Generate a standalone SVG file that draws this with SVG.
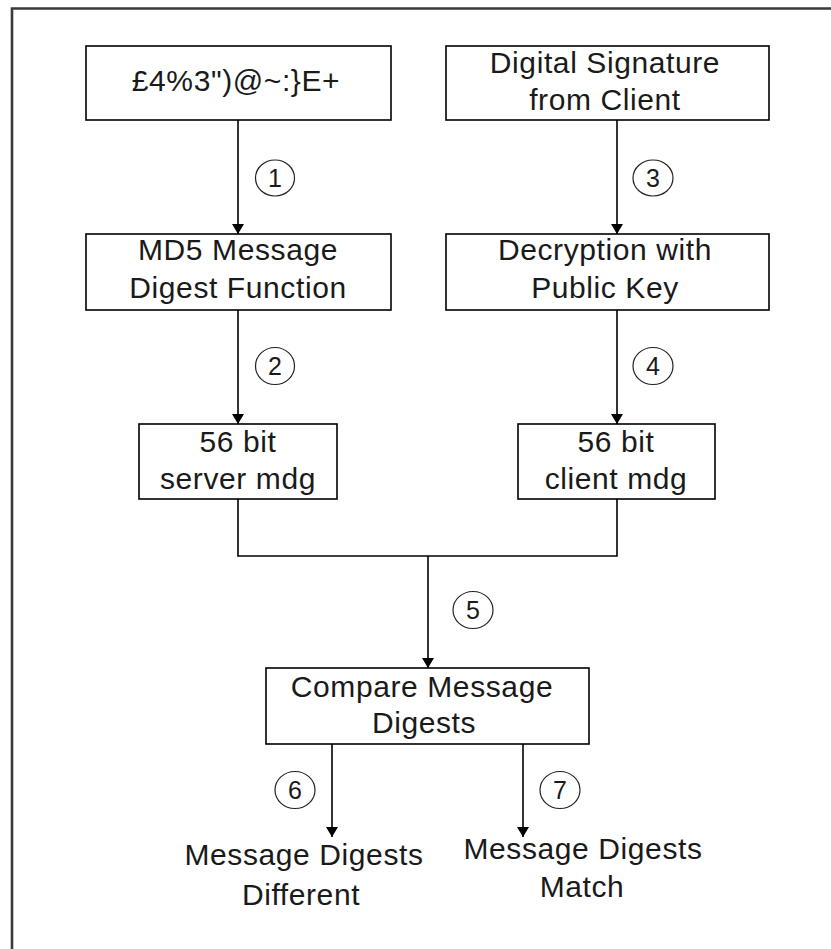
<svg xmlns="http://www.w3.org/2000/svg" width="831" height="949" viewBox="0 0 831 949">
  <defs>
    <marker id="arrow" viewBox="0 -6 10 12" refX="10" refY="0" markerWidth="10" markerHeight="12" markerUnits="userSpaceOnUse" orient="auto">
      <path d="M0,-6 L10,0 L0,6 z" fill="#000"/>
    </marker>
    <style>
      .box { fill: #fff; stroke: #000; stroke-width: 1.6; }
      .lbl { font-family: "Liberation Sans", Arial, sans-serif; font-size: 30px; letter-spacing: 0.6px; fill: #1a1a1a; text-anchor: middle; }
      .num { font-family: "Liberation Sans", Arial, sans-serif; font-size: 25px; fill: #1a1a1a; text-anchor: middle; }
      .ring { fill: none; stroke: #222; stroke-width: 1.2; }
      .wire { fill: none; stroke: #000; stroke-width: 1.6; }
      .frame { fill: none; stroke: #3a3a3a; stroke-width: 2.6; }
    </style>
  </defs>

  <rect width="831" height="949" fill="#fff"/>

  <!-- outer frame: only top and left edges fall inside the canvas -->
  <path class="frame" d="M12,949 V8.5 H831"/>

  <!-- connectors -->
  <g id="connectors">
    <path class="wire" d="M238,120 V234" marker-end="url(#arrow)"/>
    <path class="wire" d="M617,120 V234" marker-end="url(#arrow)"/>
    <path class="wire" d="M238,310 V424" marker-end="url(#arrow)"/>
    <path class="wire" d="M617,310 V424" marker-end="url(#arrow)"/>
    <path class="wire" d="M238,499 V556 H617 V499"/>
    <path class="wire" d="M428,556 V668" marker-end="url(#arrow)"/>
    <path class="wire" d="M332,744 V837" marker-end="url(#arrow)"/>
    <path class="wire" d="M523,744 V837" marker-end="url(#arrow)"/>

    <!-- step numbers -->
    <g id="step1"><ellipse class="ring" cx="275" cy="178" rx="19.5" ry="18"/><text class="num" x="275" y="187">1</text></g>
    <g id="step2"><ellipse class="ring" cx="275" cy="366" rx="19.5" ry="18.5"/><text class="num" x="275" y="375">2</text></g>
    <g id="step3"><ellipse class="ring" cx="653" cy="178" rx="20" ry="18"/><text class="num" x="653" y="187">3</text></g>
    <g id="step4"><ellipse class="ring" cx="653" cy="366" rx="20" ry="18.5"/><text class="num" x="653" y="375">4</text></g>
    <g id="step5"><ellipse class="ring" cx="473" cy="610" rx="20" ry="18.5"/><text class="num" x="473" y="619">5</text></g>
    <g id="step6"><ellipse class="ring" cx="295" cy="790" rx="20" ry="18.5"/><text class="num" x="295" y="799">6</text></g>
    <g id="step7"><ellipse class="ring" cx="560" cy="790" rx="20" ry="18.5"/><text class="num" x="560" y="799">7</text></g>
  </g>

  <!-- nodes -->
  <g id="ciphertext">
    <rect class="box" x="86" y="46" width="305" height="74"/>
    <text class="lbl" x="236" y="91">£4%3")@~:}E+</text>
  </g>

  <g id="signature">
    <rect class="box" x="446" y="46" width="323" height="74"/>
    <text class="lbl" x="605" y="73">Digital Signature</text>
    <text class="lbl" x="605" y="110">from Client</text>
  </g>

  <g id="md5">
    <rect class="box" x="86" y="234" width="305" height="76"/>
    <text class="lbl" x="238" y="260">MD5 Message</text>
    <text class="lbl" x="238" y="298">Digest Function</text>
  </g>

  <g id="decrypt">
    <rect class="box" x="446" y="234" width="323" height="76"/>
    <text class="lbl" x="605" y="260">Decryption with</text>
    <text class="lbl" x="605" y="298">Public Key</text>
  </g>

  <g id="server-digest">
    <rect class="box" x="139" y="424" width="198" height="75"/>
    <text class="lbl" x="238" y="452">56 bit</text>
    <text class="lbl" x="238" y="489">server mdg</text>
  </g>

  <g id="client-digest">
    <rect class="box" x="518" y="424" width="197" height="75"/>
    <text class="lbl" x="616" y="452">56 bit</text>
    <text class="lbl" x="616" y="489">client mdg</text>
  </g>

  <g id="compare">
    <rect class="box" x="266" y="668" width="323" height="76"/>
    <text class="lbl" x="422" y="697">Compare Message</text>
    <text class="lbl" x="424" y="733">Digests</text>
  </g>

  <g id="different">
    <text class="lbl" x="304" y="865">Message Digests</text>
    <text class="lbl" x="301" y="905">Different</text>
  </g>

  <g id="match">
    <text class="lbl" x="583" y="859">Message Digests</text>
    <text class="lbl" x="582" y="897">Match</text>
  </g>
</svg>
